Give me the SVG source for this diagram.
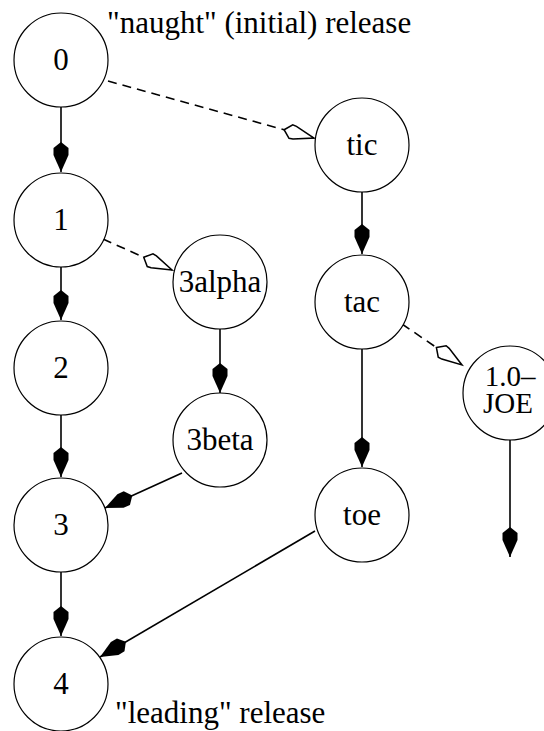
<svg xmlns="http://www.w3.org/2000/svg" width="544" height="731" viewBox="0 0 544 731" font-family="Liberation Serif, Times New Roman, DejaVu Serif, serif" font-size="31">
<style>
.n circle{fill:#fff;stroke:#000;stroke-width:1.2}
text{font-family:'Liberation Serif','Times New Roman','DejaVu Serif',serif;font-size:31px;fill:#000}
.n text{text-anchor:middle}
.e line{stroke:#000;stroke-width:1.6;fill:none}
.e .d{stroke-dasharray:9,6;marker-end:url(#hollow)}
.e .s{marker-end:url(#solid)}
</style>
<defs>
<marker id="solid" markerUnits="userSpaceOnUse" markerWidth="32" markerHeight="18" refX="30" refY="8" orient="auto" overflow="visible">
<path d="M0,8 L6,0.5 L13,0.5 L30,8 L13,15.5 L6,15.5 Z" fill="#000" stroke="none"/>
</marker>
<marker id="hollow" markerUnits="userSpaceOnUse" markerWidth="32" markerHeight="18" refX="31" refY="7" orient="auto" overflow="visible">
<path d="M0,7 L7,0 L11,0.5 L31,7 L11,13.5 L7,14 Z" fill="#fff" stroke="#000" stroke-width="1.5" stroke-dasharray="none"/>
</marker>
</defs>
<g id="edges" class="e">
<line class="s" x1="61" y1="107" x2="61" y2="172"/>
<line class="s" x1="61" y1="267" x2="61" y2="320"/>
<line class="s" x1="61" y1="415" x2="61" y2="477"/>
<line class="s" x1="61" y1="572" x2="61" y2="636"/>
<line class="s" x1="362" y1="192" x2="362" y2="254"/>
<line class="s" x1="362" y1="349" x2="362" y2="467"/>
<line class="s" x1="220" y1="329" x2="220" y2="393"/>
<line class="s" x1="510" y1="440" x2="510" y2="557"/>
<line class="s" x1="182" y1="473" x2="105" y2="508"/>
<line class="s" x1="315" y1="531" x2="100" y2="657"/>
<line class="d" x1="108" y1="81" x2="314" y2="138"/>
<line class="d" x1="103" y1="239" x2="172" y2="270"/>
<line class="d" x1="402" y1="324" x2="462" y2="365"/>
</g>
<g id="n0" class="n"><circle cx="61" cy="60" r="47"/><text x="61" y="70">0</text></g>
<g id="n1" class="n"><circle cx="61" cy="220" r="47"/><text x="61" y="230">1</text></g>
<g id="n2" class="n"><circle cx="61" cy="368" r="47"/><text x="61" y="378">2</text></g>
<g id="n3" class="n"><circle cx="61" cy="525" r="47"/><text x="61" y="535">3</text></g>
<g id="n4" class="n"><circle cx="61" cy="684" r="47"/><text x="61" y="694">4</text></g>
<g id="n3alpha" class="n"><circle cx="220" cy="282" r="47"/><text x="220" y="292">3alpha</text></g>
<g id="n3beta" class="n"><circle cx="220" cy="440" r="47"/><text x="220" y="450">3beta</text></g>
<g id="ntic" class="n"><circle cx="362" cy="145" r="47"/><text x="362" y="155">tic</text></g>
<g id="ntac" class="n"><circle cx="362" cy="302" r="47"/><text x="362" y="312">tac</text></g>
<g id="ntoe" class="n"><circle cx="362" cy="515" r="47"/><text x="362" y="525">toe</text></g>
<g id="njoe" class="n"><circle cx="510" cy="393" r="47"/><text x="510" y="386" style="font-size:29px">1.0–</text><text x="508" y="413" style="font-size:29px">JOE</text></g>
<text id="label-naught" x="107" y="33">"naught" (initial) release</text>
<text id="label-leading" x="115" y="723">"leading" release</text>
</svg>
